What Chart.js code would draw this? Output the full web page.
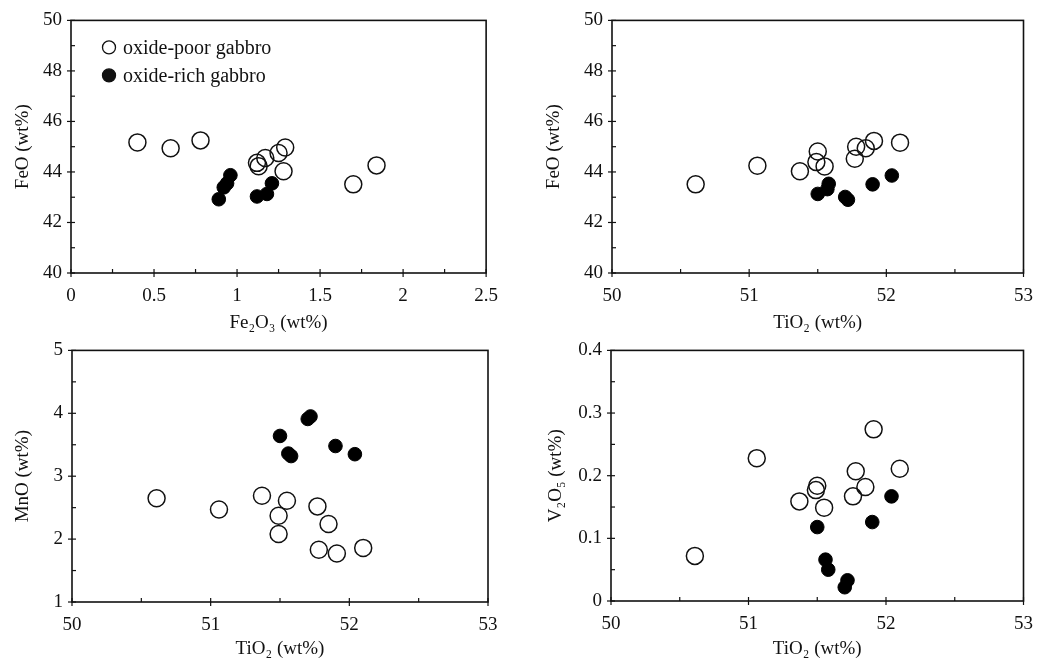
<!DOCTYPE html>
<html>
<head>
<meta charset="utf-8">
<script src="https://cdn.jsdelivr.net/npm/chart.js@4/dist/chart.umd.min.js"></script>
<style>
  body { margin: 0; background: #fff; }
  #wrap { position: relative; width: 1045px; height: 661px; overflow: hidden; }
  canvas { position: absolute; }
</style>
</head>
<body>
<div id="wrap">
  <canvas id="c1"></canvas>
  <canvas id="c2"></canvas>
  <canvas id="c3"></canvas>
  <canvas id="c4"></canvas>
</div>
<script>
// ---------------- data ----------------
const seriesNames = ["oxide-poor gabbro", "oxide-rich gabbro"];

// Fe2O3 vs FeO
const p1PoorX = [0.40, 0.60, 0.78, 1.12, 1.13, 1.17, 1.25, 1.29, 1.28, 1.70, 1.84];
const p1PoorY = [45.17, 44.94, 45.25, 44.36, 44.23, 44.55, 44.75, 44.97, 44.03, 43.51, 44.26];
const p1RichX = [0.89, 0.92, 0.94, 0.96, 1.12, 1.18, 1.21];
const p1RichY = [42.92, 43.39, 43.55, 43.87, 43.03, 43.13, 43.55];

// TiO2 vs FeO
const p2PoorX = [50.61, 51.06, 51.37, 51.50, 51.49, 51.55, 51.78, 51.77, 51.85, 51.91, 52.10];
const p2PoorY = [43.51, 44.25, 44.03, 44.81, 44.39, 44.22, 45.00, 44.52, 44.94, 45.23, 45.16];
const p2RichX = [51.50, 51.57, 51.58, 51.70, 51.72, 51.90, 52.04];
const p2RichY = [43.13, 43.32, 43.53, 43.01, 42.90, 43.51, 43.86];

// TiO2 vs MnO
const p3PoorX = [50.61, 51.06, 51.37, 51.55, 51.49, 51.49, 51.77, 51.85, 51.78, 51.91, 52.10];
const p3PoorY = [2.65, 2.47, 2.69, 2.61, 2.37, 2.08, 2.52, 2.24, 1.83, 1.77, 1.86];
const p3RichX = [51.50, 51.70, 51.72, 51.56, 51.58, 51.90, 52.04];
const p3RichY = [3.64, 3.91, 3.95, 3.36, 3.32, 3.48, 3.35];

// TiO2 vs V2O5
const p4PoorX = [50.61, 51.06, 51.37, 51.50, 51.49, 51.55, 51.78, 51.76, 51.85, 51.91, 52.10];
const p4PoorY = [0.072, 0.228, 0.159, 0.184, 0.177, 0.149, 0.207, 0.167, 0.182, 0.274, 0.211];
const p4RichX = [51.50, 51.56, 51.58, 51.72, 51.70, 51.90, 52.04];
const p4RichY = [0.118, 0.066, 0.050, 0.033, 0.022, 0.126, 0.167];

// major tick labels (minor ticks sit halfway between)
const fe2o3Ticks = [0, 0.5, 1, 1.5, 2, 2.5];
const feoTicks = [40, 42, 44, 46, 48, 50];
const tio2Ticks = [50, 51, 52, 53];
const mnoTicks = [1, 2, 3, 4, 5];
const v2o5Ticks = [0, 0.1, 0.2, 0.3, 0.4];

// ---------------- helpers ----------------
const FONT = "'Liberation Serif', 'Times New Roman', serif";

function pts(xs, ys) {
  return xs.map((x, i) => ({ x: x, y: ys[i] }));
}

function withMinors(majors) {
  const out = [];
  majors.forEach((v, i) => {
    out.push({ value: v, major: true });
    if (i < majors.length - 1) out.push({ value: (v + majors[i + 1]) / 2, major: false });
  });
  return out;
}

function fmt(v) {
  return String(Math.round(v * 100) / 100);
}

// box around the plot + tick marks (majors cross the axis, minors point inward)
const frame = {
  id: "frame",
  afterDatasetsDraw(chart) {
    const ctx = chart.ctx;
    const a = chart.chartArea;
    ctx.save();
    ctx.strokeStyle = "#111";
    ctx.lineWidth = 1.6;
    ctx.strokeRect(a.left, a.top, a.right - a.left, a.bottom - a.top);
    ctx.lineWidth = 1.2;
    const xs = chart.scales.x, ys = chart.scales.y;
    xs.ticks.forEach((t) => {
      const px = xs.getPixelForValue(t.value);
      ctx.beginPath();
      ctx.moveTo(px, a.bottom + (t.major ? 4 : 0));
      ctx.lineTo(px, a.bottom - 4);
      ctx.stroke();
    });
    ys.ticks.forEach((t) => {
      const py = ys.getPixelForValue(t.value);
      ctx.beginPath();
      ctx.moveTo(a.left - (t.major ? 4 : 0), py);
      ctx.lineTo(a.left + 4, py);
      ctx.stroke();
    });
    ctx.restore();
  },
};

// legend drawn inside the first panel
const innerLegend = {
  id: "innerLegend",
  afterDraw(chart) {
    const ctx = chart.ctx;
    const a = chart.chartArea;
    ctx.save();
    ctx.font = "20px " + FONT;
    ctx.fillStyle = "#111";
    ctx.textBaseline = "middle";
    seriesNames.forEach((name, i) => {
      const cx = a.left + 38, cy = a.top + 27 + i * 28;
      ctx.beginPath();
      ctx.arc(cx, cy, 6.5, 0, Math.PI * 2);
      ctx.lineWidth = 1.3;
      ctx.strokeStyle = "#111";
      if (i === 1) ctx.fill();
      ctx.stroke();
      ctx.fillText(name, cx + 14, cy + 1);
    });
    ctx.restore();
  },
};

function makeChart(id, box, xTicks, yTicks, xTitle, yTitle, poor, rich, extra) {
  const cv = document.getElementById(id);
  cv.style.left = box.left + "px";
  cv.style.top = box.top + "px";
  cv.width = box.w;
  cv.height = box.h;
  const area = box.area;
  const yWidth = area.l - box.left;
  const xHeight = box.top + box.h - area.b;

  const axisBase = (majors, title, titlePad, fitKey, fitVal) => ({
    type: "linear",
    min: majors[0],
    max: majors[majors.length - 1],
    afterBuildTicks: (s) => { s.ticks = withMinors(majors); },
    afterFit: (s) => { s[fitKey] = fitVal; },
    grid: { display: false, drawTicks: false },
    border: { display: false },
    ticks: {
      color: "#111",
      font: { family: FONT, size: 19 },
      autoSkip: false,
      maxRotation: 0,
      callback: function (v, i, ticks) {
        return ticks[i].major ? fmt(v) : "";
      },
    },
    title: {
      display: true,
      text: title,
      color: "#111",
      font: { family: FONT, size: 19 },
      padding: titlePad,
    },
  });

  const xAxis = axisBase(xTicks, xTitle, { top: 0, bottom: 1 }, "height", xHeight);
  xAxis.ticks.padding = 12;
  const yAxis = axisBase(yTicks, yTitle, { top: box.yTitlePad, bottom: 0 }, "width", yWidth);
  yAxis.ticks.padding = 9;

  return new Chart(cv, {
    type: "scatter",
    data: {
      datasets: [
        {
          label: seriesNames[0],
          data: poor,
          pointStyle: "circle",
          pointRadius: 8.5,
          pointBorderWidth: 1.5,
          borderColor: "#111",
          backgroundColor: "rgba(0,0,0,0)",
        },
        {
          label: seriesNames[1],
          data: rich,
          pointStyle: "circle",
          pointRadius: 6.8,
          pointBorderWidth: 1,
          borderColor: "#000",
          backgroundColor: "#000",
        },
      ],
    },
    options: {
      responsive: false,
      animation: false,
      devicePixelRatio: 1,
      layout: {
        padding: {
          left: 0,
          top: area.t - box.top,
          right: box.left + box.w - area.r,
          bottom: 0,
        },
      },
      scales: { x: xAxis, y: yAxis },
      plugins: { legend: { display: false }, tooltip: { enabled: false } },
    },
    plugins: [frame].concat(extra || []),
  });
}

// ---------------- the four panels ----------------
makeChart("c1",
  { left: 0, top: 0, w: 510, h: 335, yTitlePad: 12, area: { l: 71, t: 16, r: 488, b: 273 } },
  fe2o3Ticks, feoTicks, "Fe\u2082O\u2083 (wt%)", "FeO (wt%)",
  pts(p1PoorX, p1PoorY), pts(p1RichX, p1RichY), [innerLegend]);

makeChart("c2",
  { left: 530, top: 0, w: 515, h: 335, yTitlePad: 13, area: { l: 612, t: 16, r: 1029, b: 273 } },
  tio2Ticks, feoTicks, "TiO\u2082 (wt%)", "FeO (wt%)",
  pts(p2PoorX, p2PoorY), pts(p2RichX, p2RichY));

makeChart("c3",
  { left: 0, top: 330, w: 510, h: 331, yTitlePad: 12, area: { l: 72, t: 345, r: 488, b: 602 } },
  tio2Ticks, mnoTicks, "TiO\u2082 (wt%)", "MnO (wt%)",
  pts(p3PoorX, p3PoorY), pts(p3RichX, p3RichY));

makeChart("c4",
  { left: 530, top: 330, w: 515, h: 331, yTitlePad: 15, area: { l: 611, t: 344, r: 1028, b: 601 } },
  tio2Ticks, v2o5Ticks, "TiO\u2082 (wt%)", "V\u2082O\u2085 (wt%)",
  pts(p4PoorX, p4PoorY), pts(p4RichX, p4RichY));
</script>
</body>
</html>
